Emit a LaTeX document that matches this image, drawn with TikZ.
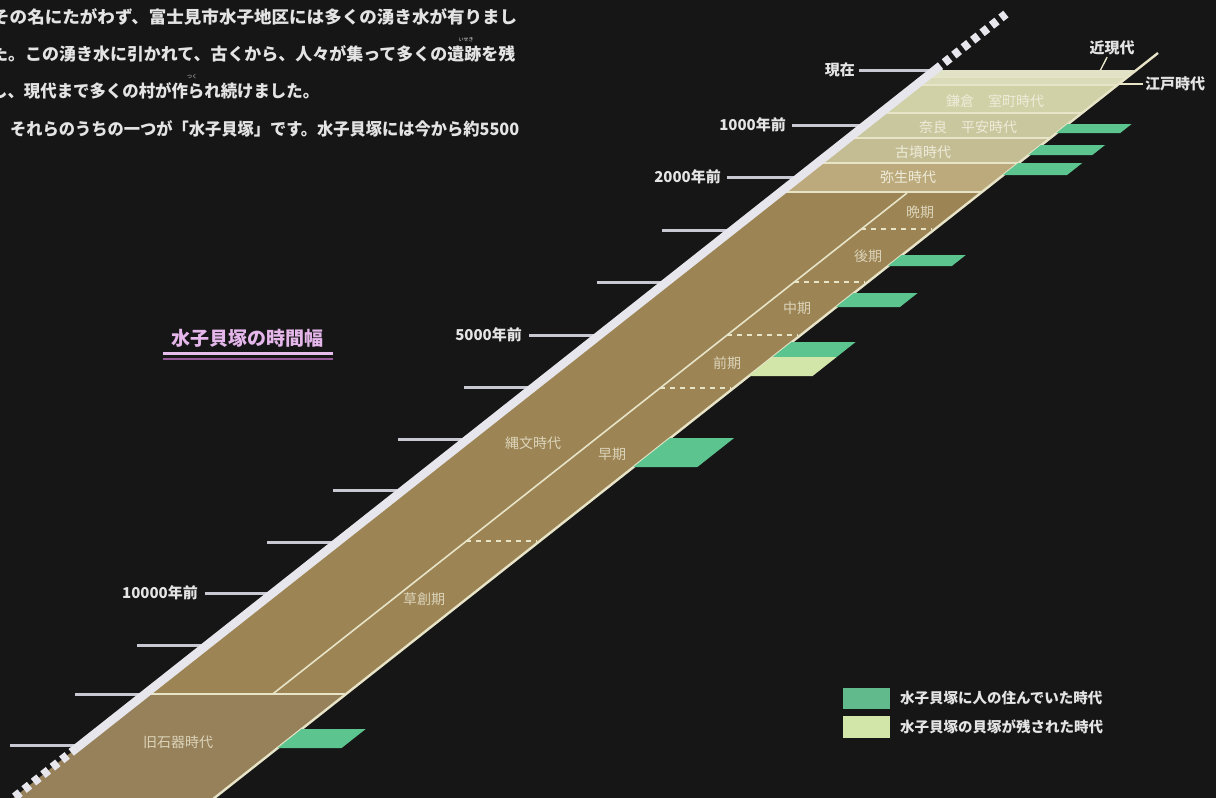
\documentclass[tikz,border=0pt]{standalone}
\usepackage{fontspec}
\newfontfamily\jp{Noto Sans CJK JP}
\definecolor{bg}{HTML}{161616}
\definecolor{axisw}{HTML}{E6E6EC}
\definecolor{tickc}{HTML}{C8C8D2}
\definecolor{jomon}{HTML}{9C8454}
\definecolor{kyu}{HTML}{96815A}
\definecolor{yayoi}{HTML}{BCAA7C}
\definecolor{kofun}{HTML}{C4BD94}
\definecolor{nara}{HTML}{C9C79D}
\definecolor{kama}{HTML}{D0D1A6}
\definecolor{edo}{HTML}{DADBB8}
\definecolor{kin}{HTML}{E2E2C6}
\definecolor{edge}{HTML}{E8E4C8}
\definecolor{live}{HTML}{5CC48E}
\definecolor{shell}{HTML}{D2E6AA}
\definecolor{ttl}{HTML}{E4B6EA}
\definecolor{txt}{HTML}{E4E4E4}
\definecolor{lbl}{HTML}{DCD4BA}
\definecolor{lbllight}{HTML}{EEECDA}
\newcommand\bandpart[3]{\fill[#3] ({ax(#1)},#1) -- ({rx(#1)},#1) -- ({rx(#2)},#2) -- ({ax(#2)},#2) -- cycle;}
\newcommand\gbar[3]{\fill[#3] ({rx(#1)},#1) -- ({rx(#1)+64},#1) -- ({rx(#2)+64},#2) -- ({rx(#2)},#2) -- cycle;}
\newcommand\fitline[2]{\resizebox{#1}{\height}{#2}}
\tikzset{
  para/.style={anchor=west, inner sep=0pt, text=txt, font=\jp\bfseries\fontsize{17}{19}\selectfont},
  ruby/.style={inner sep=0pt, text=txt, font=\jp\fontsize{5}{6}\selectfont},
  ticklbl/.style={anchor=east, inner sep=0pt, text=txt, font=\jp\bfseries\fontsize{15}{17}\selectfont},
  ticklin/.style={draw=tickc, line width=3pt},
  era/.style={inner sep=0pt, text=lbl, font=\jp\fontsize{14}{16}\selectfont},
  eralight/.style={inner sep=0pt, text=lbllight, font=\jp\fontsize{14}{16}\selectfont},
  divline/.style={draw=edge, line width=1.6pt},
  subdash/.style={draw=edge, line width=1.6pt, dash pattern=on 5pt off 5pt},
  legtxt/.style={anchor=west, inner sep=0pt, text=txt, font=\jp\bfseries\fontsize{14.5}{16}\selectfont},
  rlbl/.style={inner sep=0pt, text=txt, font=\jp\bfseries\fontsize{15}{17}\selectfont},
}
\begin{document}
\begin{tikzpicture}[x=1pt,y=-1pt,
  declare function={ax(\v)=935-1.266*(\v-70); rx(\v)=1136-1.266*(\v-70); ix(\v)=907-1.266*(\v-193);}]
\useasboundingbox (0,0) rectangle (1216,798);
\clip (0,0) rectangle (1216,798);
\fill[bg] (0,0) rectangle (1216,798);

% paragraph
\node[para] (p1) at (-8,17) {\fitline{525pt}{その名にたがわず、富士見市水子地区には多くの湧き水が有りまし}};
\node[para] (p2) at (-9,54) {\fitline{524pt}{た。この湧き水に引かれて、古くから、人々が集って多くの遺跡を残}};
\node[para] (p3) at (-9,91) {\fitline{328pt}{し、現代まで多くの村が作られ続けました。}};
\node[para] (p4) at (10,129) {\fitline{509pt}{それらのうちの一つが「水子貝塚」です。水子貝塚には今から約5500}};
\node[ruby] (r1) at (466,40) {いせき};
\node[ruby] (r2) at (192,77) {つく};

% title
\node[inner sep=0pt, text=ttl, font=\jp\bfseries\fontsize{19}{21}\selectfont] (title) at (247,338) {水子貝塚の時間幅};
\draw[draw=ttl!90, line width=3pt] (163,353) -- (333,353);
\draw[draw=ttl!60!violet!80!black, line width=2pt] (163,359) -- (333,359);

% band regions
\bandpart{70}{77}{kin}
\bandpart{77}{85}{edo}
\bandpart{85}{113}{kama}
\bandpart{113}{138}{nara}
\bandpart{138}{163}{kofun}
\bandpart{163}{192}{yayoi}
\bandpart{192}{694}{jomon}
\bandpart{694}{820}{kyu}

% separators
\foreach \yy in {85,113,138,163,192,694} {
  \draw[divline] ({ax(\yy)},\yy) -- ({rx(\yy)},\yy);
}
\draw[draw=edge!70!kin, line width=0.8pt] ({ax(77)},77) -- ({rx(77)},77);

% inner line of Jomon
\coordinate (itop) at ({ix(193)},193);
\coordinate (ibot) at ({ix(694)},694);
\draw[divline] (itop) -- (ibot);

% sub-period dashed lines
\foreach \yy in {229,282,335,388,541} {
  \draw[subdash] ({ix(\yy)},\yy) -- ({rx(\yy)-3},\yy);
}

% right edge
\coordinate (rtop) at (1158,53);
\coordinate (rbot) at ({rx(820)},820);
\draw[divline, line width=2.4pt] (rtop) -- (rbot);

% green / light bars
\gbar{124}{133}{live}
\gbar{145}{155}{live}
\gbar{163}{175}{live}
\gbar{255}{266}{live}
\gbar{293}{307}{live}
\gbar{342}{357}{live}
\gbar{357}{376}{shell}
\gbar{438}{467}{live}
\gbar{729}{748}{live}

% ticks
\node[ticklbl] (now) at (855,70) {現在};
\node[ticklbl] (y1000) at (786,125) {1000年前};
\node[ticklbl] (y2000) at (721,177) {2000年前};
\node[ticklbl] (y5000) at (522,335) {5000年前};
\node[ticklbl] (y10000) at (198,593) {10000年前};
\coordinate (anow) at ({ax(70)},70);
\coordinate (a1000) at ({ax(125)},125);
\coordinate (a2000) at ({ax(177)},177);
\coordinate (a5000) at ({ax(335)},335);
\coordinate (a10000) at ({ax(593)},593);
\draw[ticklin, shorten <=4pt] (now.east) -- (anow);
\draw[ticklin, shorten <=6pt] (y1000.east) -- (a1000);
\draw[ticklin, shorten <=6pt] (y2000.east) -- (a2000);
\draw[ticklin, shorten <=7pt] (y5000.east) -- (a5000);
\draw[ticklin, shorten <=7pt] (y10000.east) -- (a10000);
\foreach \yy/\nm in {230/3,282/4,387/6,439/7,490/8,542/9,645/11,694/12,745/13} {
  \coordinate (s\nm) at ({ax(\yy)-70},\yy);
  \coordinate (e\nm) at ({ax(\yy)},\yy);
  \draw[ticklin] (s\nm) -- (e\nm);
}

% axis
\coordinate (axtop) at ({ax(70)},70);
\coordinate (axbot) at ({ax(748)},748);
\coordinate (axtopd) at ({ax(14)},14);
\coordinate (axbotd) at ({ax(800)},800);
\draw[draw=axisw, line width=8.5pt] (axbot) -- (axtop);
\draw[draw=axisw, line width=8.5pt, dash pattern=on 7pt off 5pt] (axtop) -- (axtopd);
\draw[draw=axisw, line width=8.5pt, dash pattern=on 7pt off 5pt] (axbot) -- (axbotd);

% era labels
\node[eralight] (l1) at (908,177) {弥生時代};
\node[eralight] (l2) at (923,152) {古墳時代};
\node[eralight] (l3) at (968,127) {奈良　平安時代};
\node[eralight] (l4) at (995,101) {鎌倉　室町時代};
\node[era] (l5) at (920,212) {晩期};
\node[era] (l6) at (868,256) {後期};
\node[era] (l7) at (797,308) {中期};
\node[era] (l8) at (727,363) {前期};
\node[era] (l9) at (612,454) {早期};
\node[era] (l10) at (424,599) {草創期};
\node[era] (l11) at (533,443) {縄文時代};
\node[era] (l12) at (178,742) {旧石器時代};

% right labels
\node[rlbl] (kin) at (1112,48) {近現代};
\node[rlbl, anchor=west] (edo) at (1145,84) {江戸時代};
\coordinate (kinpt) at (1100,71);
\coordinate (edopt) at ({rx(84)},84);
\draw[draw=edge, line width=1.4pt, shorten <=2pt] (kin.south) ++(-4,0) -- (kinpt);
\draw[draw=edge, line width=1.4pt, shorten <=2pt] (edo.west) -- (edopt);

% legend
\node[fill=live!85!gray, minimum width=47pt, minimum height=21pt, inner sep=0pt] (lg1) at (866,698) {};
\node[fill=shell, minimum width=47pt, minimum height=22pt, inner sep=0pt] (lg2) at (866,727) {};
\node[legtxt] (lt1) at (900,698) {水子貝塚に人の住んでいた時代};
\node[legtxt] (lt2) at (900,727) {水子貝塚の貝塚が残された時代};
\end{tikzpicture}
\end{document}
